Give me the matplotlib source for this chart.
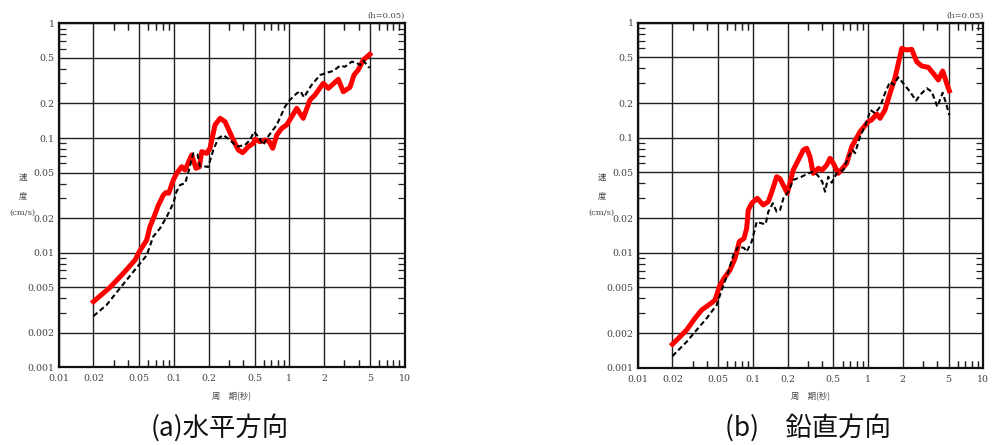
import matplotlib
matplotlib.use("Agg")
import matplotlib.pyplot as plt
from matplotlib.ticker import FixedLocator, FixedFormatter, NullFormatter

# ---- data ----
T_a_red = [0.02, 0.0228, 0.0279, 0.0363, 0.0459, 0.05, 0.058, 0.0619, 0.0671, 0.0732,
           0.0809, 0.0848, 0.090, 0.0986, 0.1055, 0.1166, 0.1246, 0.1425, 0.155, 0.166,
           0.174, 0.192, 0.205, 0.227, 0.251, 0.277, 0.327, 0.361, 0.394, 0.441, 0.488,
           0.505, 0.557, 0.616, 0.671, 0.718, 0.778, 0.86, 0.949, 1.05, 1.16, 1.32, 1.51,
           1.67, 1.97, 2.18, 2.66, 2.94, 3.36, 3.64, 3.96, 4.38, 5.0]
V_a_red = [0.00374, 0.00419, 0.00499, 0.0066, 0.00863, 0.0102, 0.0129, 0.0169, 0.0206, 0.026,
           0.0318, 0.0334, 0.0330, 0.043, 0.0492, 0.0562, 0.0526, 0.0711, 0.0544, 0.056,
           0.076, 0.0736, 0.0813, 0.13, 0.1485, 0.1388, 0.0961, 0.0786, 0.0745, 0.084, 0.0899,
           0.0975, 0.0929, 0.096, 0.093, 0.0813, 0.106, 0.1216, 0.13, 0.1534, 0.1814, 0.1485, 0.2143,
           0.237, 0.30, 0.271, 0.325, 0.253, 0.277, 0.354, 0.392, 0.479, 0.537]

T_a_blk = [0.02, 0.026, 0.034, 0.0444, 0.058, 0.066, 0.0756, 0.0865, 0.0986, 0.105,
           0.113, 0.125, 0.136, 0.147, 0.16, 0.168, 0.198, 0.219, 0.242, 0.268,
           0.306, 0.35, 0.413, 0.456, 0.494, 0.538, 0.595, 0.637, 0.778, 0.918,
           1.01, 1.16, 1.25, 1.34, 1.56, 1.85, 2.18, 2.41, 2.75, 3.04, 3.48, 3.8,
           4.1, 4.4, 4.84, 5.0]
V_a_blk = [0.0028, 0.0035, 0.0049, 0.00683, 0.0095, 0.0138, 0.0163, 0.0206, 0.027, 0.034,
           0.039, 0.0403, 0.0544, 0.0736, 0.072, 0.057, 0.056, 0.0786, 0.0994, 0.106,
           0.096, 0.084, 0.0869, 0.096, 0.1135, 0.1026, 0.0869, 0.0994, 0.13, 0.1875,
           0.2143, 0.245, 0.256, 0.226, 0.29, 0.354, 0.374, 0.384, 0.427, 0.418, 0.463, 0.454,
           0.433, 0.472, 0.418, 0.41]

T_b_red = [0.02, 0.0218, 0.0266, 0.0314, 0.036, 0.0439, 0.0469, 0.0511, 0.0561, 0.0633,
           0.07, 0.0762, 0.0837, 0.0883, 0.0912, 0.0977, 0.109, 0.123, 0.136, 0.146,
           0.161, 0.172, 0.199, 0.224, 0.248, 0.274, 0.293, 0.313, 0.334, 0.37, 0.40,
           0.438, 0.467, 0.499, 0.551, 0.651, 0.721, 0.851, 1.0, 1.07, 1.19, 1.27, 1.4,
           1.55, 1.71, 1.83, 1.96, 2.16, 2.39, 2.64, 2.92, 3.33, 3.68, 4.07, 4.44, 4.81, 5.07]
V_b_red = [0.0016, 0.00174, 0.00213, 0.00269, 0.00318, 0.00367, 0.00388, 0.00506, 0.00598, 0.00707,
           0.00894, 0.0125, 0.0133, 0.0163, 0.0235, 0.0269, 0.0297, 0.026, 0.0278, 0.0339,
           0.0458, 0.044, 0.0329, 0.0524, 0.064, 0.0782, 0.0809, 0.0684, 0.049, 0.0542, 0.0524,
           0.058, 0.0662, 0.0598, 0.049, 0.0598, 0.0835, 0.1127, 0.1377, 0.1426, 0.161, 0.1475, 0.174,
           0.243, 0.329, 0.443, 0.598, 0.579, 0.587, 0.458, 0.42, 0.409, 0.363, 0.318, 0.38, 0.297, 0.256]

T_b_blk = [0.02, 0.0266, 0.0325, 0.0397, 0.0485, 0.0536, 0.0612, 0.0677, 0.0747, 0.0837,
           0.0883, 0.0977, 0.108, 0.119, 0.129, 0.136, 0.149, 0.161, 0.172, 0.184,
           0.203, 0.224, 0.265, 0.303, 0.334, 0.363, 0.40, 0.423, 0.451, 0.483, 0.534,
           0.61, 0.674, 0.734, 0.77, 0.851, 0.96, 1.05, 1.15, 1.27, 1.4, 1.55, 1.66,
           1.83, 2.02, 2.31, 2.61, 2.82, 3.23, 3.57, 3.99, 4.44, 4.75, 5.07]
V_b_blk = [0.00126, 0.00168, 0.00213, 0.00269, 0.00351, 0.00474, 0.00684, 0.00955, 0.0113, 0.011,
           0.0102, 0.0125, 0.0186, 0.018, 0.0177, 0.0227, 0.0269, 0.0227, 0.0235, 0.0297,
           0.0339, 0.0429, 0.0458, 0.049, 0.0506, 0.0474, 0.0414, 0.0339, 0.0458, 0.0406, 0.049,
           0.0524, 0.0684, 0.0782, 0.0735, 0.102, 0.133, 0.174, 0.163, 0.186, 0.243, 0.307, 0.288,
           0.335, 0.297, 0.251, 0.21, 0.235, 0.269, 0.251, 0.186, 0.246, 0.199, 0.157]

x_ticks = [0.01, 0.02, 0.05, 0.1, 0.2, 0.5, 1, 2, 5, 10]
x_labels = ['0.01', '0.02', '0.05', '0.1', '0.2', '0.5', '1', '2', '5', '10']
y_ticks = [0.001, 0.002, 0.005, 0.01, 0.02, 0.05, 0.1, 0.2, 0.5, 1]
y_labels = ['0.001', '0.002', '0.005', '0.01', '0.02', '0.05', '0.1', '0.2', '0.5', '1']
captions = ['(a)水平方向', '(b)　鉛直方向']
xlabel = '周　期(秒)'
ylabel_lines = ['速', '度', '(cm/s)']
damping = '(h=0.05)'

minor = []
for d in [0.001, 0.01, 0.1, 1]:
    minor += [d * m for m in (3, 4, 6, 7, 8, 9)]

W, H = 997, 445
fig = plt.figure(figsize=(W / 100, H / 100), dpi=100)
cjk = ['Noto Sans CJK JP', 'DejaVu Sans']
tc = '#444444'

panels = [
    (58.7, 23.3, 345.9, 344.1, T_a_red, V_a_red, T_a_blk, V_a_blk, captions[0], 220),
    (637.7, 22.7, 345.6, 345.0, T_b_red, V_b_red, T_b_blk, V_b_blk, captions[1], 808),
]

for (x0, y0, w, h, tr, vr, tb, vb, cap, capx) in panels:
    ax = fig.add_axes([x0 / W, 1 - (y0 + h) / H, w / W, h / H])
    ax.set_xscale('log')
    ax.set_yscale('log')
    ax.set_xlim(0.01, 10)
    ax.set_ylim(0.001, 1)
    ax.xaxis.set_major_locator(FixedLocator(x_ticks))
    ax.xaxis.set_major_formatter(FixedFormatter(x_labels))
    ax.yaxis.set_major_locator(FixedLocator(y_ticks))
    ax.yaxis.set_major_formatter(FixedFormatter(y_labels))
    ax.xaxis.set_minor_locator(FixedLocator(minor + [10 * m for m in minor if m * 10 < 10]))
    ax.yaxis.set_minor_locator(FixedLocator(minor))
    ax.xaxis.set_minor_formatter(NullFormatter())
    ax.yaxis.set_minor_formatter(NullFormatter())
    ax.grid(True, which='major', color='#222222', lw=1.0)
    ax.tick_params(which='both', direction='in', top=True, right=True,
                   labelsize=6.8, labelcolor=tc)
    ax.tick_params(axis='x', which='major', pad=5)
    ax.tick_params(axis='y', which='major', pad=3)
    ax.tick_params(which='major', length=0)
    ax.tick_params(which='minor', length=5, width=0.9, color='#222222')
    for lab in ax.get_xticklabels() + ax.get_yticklabels():
        lab.set_family('DejaVu Serif')
    for s in ax.spines.values():
        s.set_linewidth(1.6)
        s.set_color('#111111')
    ax.plot(tr, vr, color='#ff0000', lw=3.6, solid_joinstyle='round', zorder=3)
    ax.plot(tb, vb, color='black', lw=1.5, linestyle=(0, (2.5, 1.5)), zorder=4)

    fig.text((x0 + w) / W, 1 - 15.5 / H, damping, ha='right', va='center',
             fontsize=6, color=tc, family='DejaVu Serif')
    fig.text((x0 + w / 2 - 0) / W, 1 - 397 / H, xlabel, ha='center', va='center',
             fontsize=6, color=tc, family=cjk)
    lx = x0 - 36
    fig.text(lx / W, 1 - 177 / H, ylabel_lines[0], ha='center', va='center',
             fontsize=6, color=tc, family=cjk)
    fig.text(lx / W, 1 - 196 / H, ylabel_lines[1], ha='center', va='center',
             fontsize=6, color=tc, family=cjk)
    fig.text(lx / W, 1 - 213 / H, ylabel_lines[2], ha='center', va='center',
             fontsize=6, color=tc, family='DejaVu Serif')
    fig.text(capx / W, 1 - 428 / H, cap, ha='center', va='center',
             fontsize=19, color='#111111', family=cjk)

fig.savefig('out.png', dpi=100)
